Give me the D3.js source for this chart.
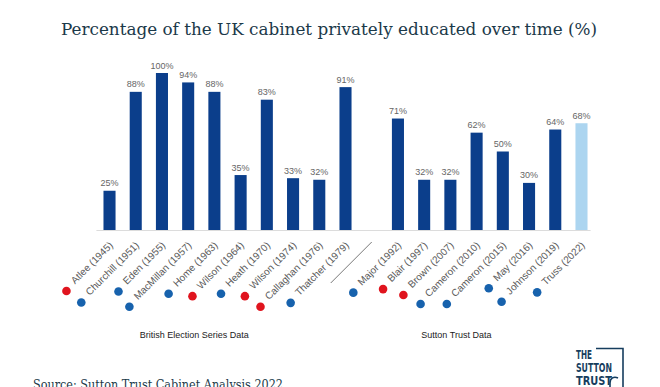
<!DOCTYPE html>
<html>
<head>
<meta charset="utf-8">
<script src="https://cdn.jsdelivr.net/npm/d3@7"></script>
<style>
  body { margin: 0; background: #fff; }
  svg { display: block; }
</style>
</head>
<body>
<script>
// data (null = the gap between the two data sources)
const leaders = ["Atlee (1945)", "Churchill (1951)", "Eden (1955)", "MacMillan (1957)", "Home (1963)",
  "Wilson (1964)", "Heath (1970)", "Wilson (1974)", "Callaghan (1976)", "Thatcher (1979)", "gap",
  "Major (1992)", "Blair (1997)", "Brown (2007)", "Cameron (2010)", "Cameron (2015)", "May (2016)",
  "Johnson (2019)", "Truss (2022)"];
const privateShare = [25, 88, 100, 94, 88, 35, 83, 33, 32, 91, null, 71, 32, 32, 62, 50, 30, 64, 68];
const party = ["Lab", "Con", "Con", "Con", "Con", "Lab", "Con", "Lab", "Lab", "Con", null,
  "Con", "Lab", "Lab", "Con", "Con", "Con", "Con", "Con"];
const sources = ["British Election Series Data", "Sutton Trust Data"];
// which leader each source caption sits under
const sourceUnder = ["MacMillan (1957)", "Brown (2007)"];

const width = 660;
const height = 387;
const baseY = 230;

const svg = d3.select("body").append("svg")
    .attr("width", width)
    .attr("height", height);

const x = d3.scaleBand()
    .domain(leaders)
    .range([96.4, 594.6])
    .paddingInner(0.54)
    .paddingOuter(0.27);

const y = d3.scaleLinear()
    .domain([0, 100])
    .range([baseY, 73]);

const partyColour = { Lab: "#e0141e", Con: "#1762ad" };

// title
svg.append("text")
    .attr("x", 329)
    .attr("y", 35)
    .attr("text-anchor", "middle")
    .attr("font-family", "DejaVu Serif")
    .attr("font-size", 17.5)
    .attr("textLength", 536)
    .attr("lengthAdjust", "spacingAndGlyphs")
    .attr("fill", "#1b3949")
    .text("Percentage of the UK cabinet privately educated over time (%)");

// baseline
svg.append("line")
    .attr("x1", x.range()[0])
    .attr("x2", x.range()[1] - 4)
    .attr("y1", baseY + 0.5)
    .attr("y2", baseY + 0.5)
    .attr("stroke", "#dcdcdc");

const rows = leaders.map((d, i) => ({ name: d, value: privateShare[i], party: party[i] }))
    .filter(d => d.value != null);

svg.selectAll("rect.bar")
    .data(rows)
    .enter().append("rect")
    .attr("class", "bar")
    .attr("x", d => x(d.name))
    .attr("width", x.bandwidth())
    .attr("y", d => y(d.value))
    .attr("height", d => y(0) - y(d.value))
    .attr("fill", d => d.name === "Truss (2022)" ? "#acd5f0" : "#0b3e8b");

svg.selectAll("text.val")
    .data(rows)
    .enter().append("text")
    .attr("class", "val")
    .attr("x", d => x(d.name) + x.bandwidth() / 2)
    .attr("y", d => y(d.value) - 4.5)
    .attr("text-anchor", "middle")
    .attr("font-family", "Liberation Sans, Arial, sans-serif")
    .attr("font-size", 9)
    .attr("fill", "#666")
    .text(d => d.value + "%");

// rotated leader labels, with a party dot at the start of each
const labelY = 246;
const cos45 = Math.SQRT1_2;
const labels = svg.selectAll("g.lab")
    .data(rows)
    .enter().append("g")
    .attr("class", "lab")
    .attr("transform", d => `translate(${x(d.name) + x.bandwidth() / 2 + 4},${labelY})`);

labels.append("text")
    .attr("transform", "rotate(-45)")
    .attr("text-anchor", "end")
    .attr("font-family", "Liberation Sans, Arial, sans-serif")
    .attr("font-size", 10)
    .attr("fill", "#5a5a5a")
    .text(d => d.name);

labels.each(function(d) {
  const len = d3.select(this).select("text").node().getComputedTextLength();
  const dist = len + 5;
  d3.select(this).append("circle")
      .attr("cx", -dist * cos45 - 5)
      .attr("cy", dist * cos45 + 3)
      .attr("r", 4.3)
      .attr("fill", partyColour[d.party]);
});

// separator between the two data sources
const gx = x("gap") + x.bandwidth() / 2;
svg.append("line")
    .attr("x1", gx)
    .attr("y1", 242)
    .attr("x2", gx - 41)
    .attr("y2", 283)
    .attr("stroke", "#555")
    .attr("stroke-width", 0.8);

svg.selectAll("text.src")
    .data(sources)
    .enter().append("text")
    .attr("class", "src")
    .attr("x", (d, i) => x(sourceUnder[i]) + x.bandwidth() / 2 + 6)
    .attr("y", 338)
    .attr("text-anchor", "middle")
    .attr("font-family", "Liberation Sans, Arial, sans-serif")
    .attr("font-size", 9)
    .attr("fill", "#222")
    .text(d => d);

// source line (cut by the bottom edge, as in the original)
svg.append("text")
    .attr("x", 33)
    .attr("y", 389)
    .attr("font-family", "DejaVu Serif")
    .attr("font-size", 13.5)
    .attr("textLength", 250)
    .attr("lengthAdjust", "spacingAndGlyphs")
    .attr("fill", "#1b3949")
    .text("Source: Sutton Trust Cabinet Analysis 2022");

// logo
const logo = svg.append("g").attr("transform", "translate(576,0)")
    .attr("fill", "#163d5e");
["THE", "SUTTON", "TRUST"].forEach((t, i) => {
  logo.append("text")
      .attr("x", 0)
      .attr("y", 359 + i * 13)
      .attr("font-family", "Liberation Sans Narrow, DejaVu Sans Condensed, sans-serif")
      .attr("font-weight", "bold")
      .attr("font-size", 12.5)
      .attr("textLength", t === "THE" ? 16 : 36)
      .attr("lengthAdjust", "spacingAndGlyphs")
      .text(t);
});
logo.append("path")
    .attr("d", "M20,348.5 H47 V387")
    .attr("fill", "none")
    .attr("stroke", "#163d5e")
    .attr("stroke-width", 1.6);
logo.append("path")
    .attr("d", "M42,378 C38,376 34,378 34,383 V387")
    .attr("fill", "none")
    .attr("stroke", "#163d5e")
    .attr("stroke-width", 1.6);
</script>
</body>
</html>
